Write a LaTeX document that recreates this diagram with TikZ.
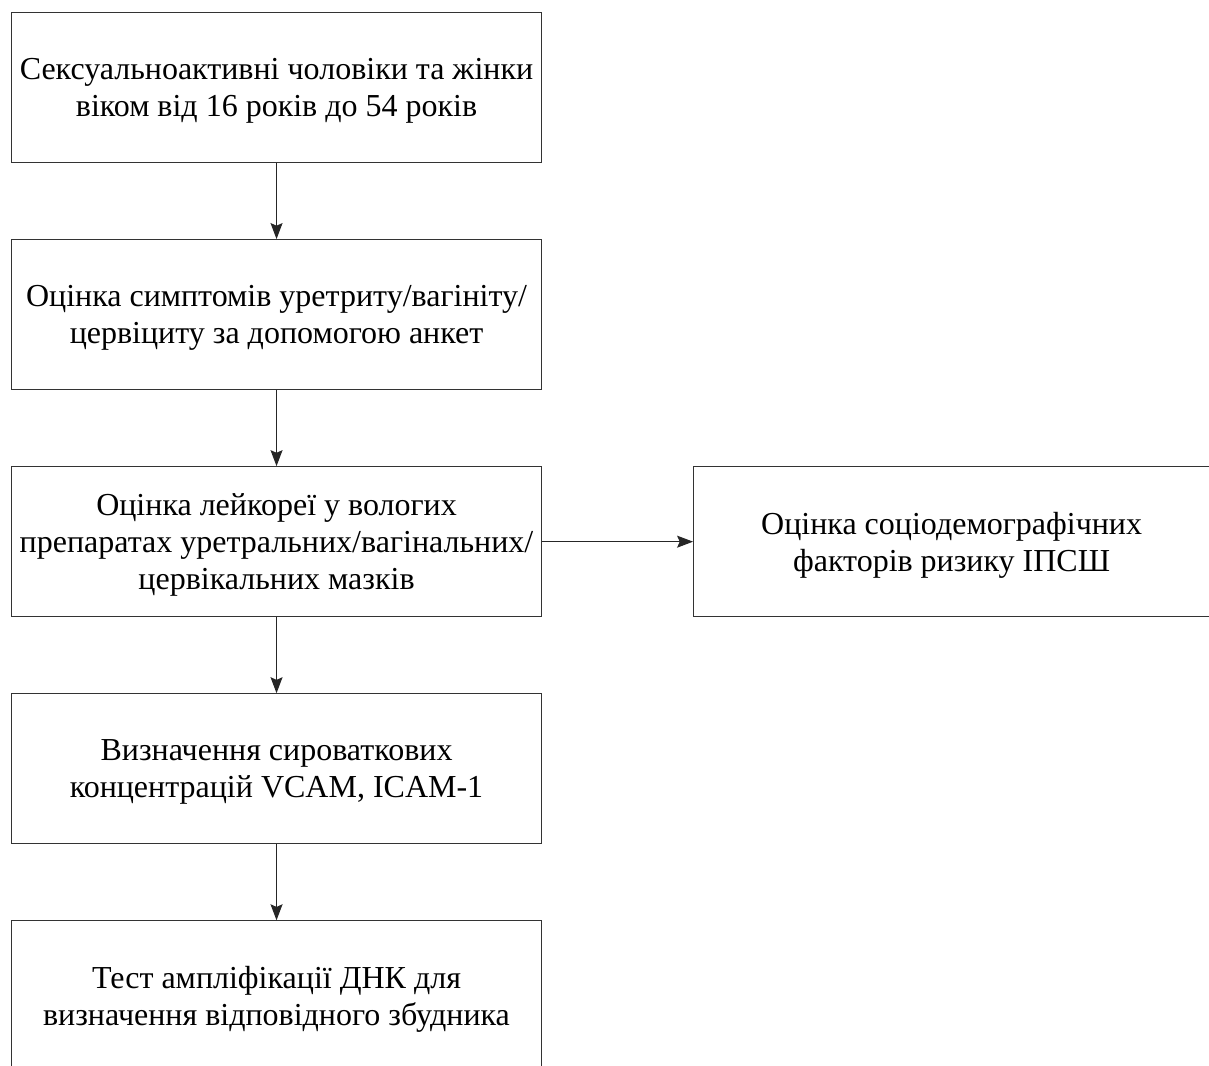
\documentclass[tikz,border=0pt]{standalone}
\usepackage{fontspec}
\setmainfont{Liberation Serif}
\usetikzlibrary{arrows.meta}
\usetikzlibrary{positioning}
\usetikzlibrary{calc}

\tikzset{
  stage/.style={draw=black!80,line width=0.8pt,rectangle,align=center,
    minimum width=397.5pt,minimum height=112.5pt,inner sep=0pt,text depth=0pt,
    font=\fontsize{24pt}{28pt}\selectfont},
  flow/.style={draw=black!85,line width=0.8pt,-{Stealth[length=12pt,width=9pt,inset=2pt]}}
}

\begin{document}
\begin{tikzpicture}[node distance=57pt]
  \useasboundingbox (0,0) rectangle (906.75pt,-799.5pt);
  \node[stage,anchor=north west] (cohort) at (8.25pt,-9pt)
    {Сексуальноактивні чоловіки та жінки\\віком від 16 років до 54 років};
  \node[stage,below=of cohort] (symptoms)
    {Оцінка симптомів уретриту/вагініту/\\цервіциту за допомогою анкет};
  \node[stage,below=of symptoms] (leuko)
    {Оцінка лейкореї у вологих\\препаратах уретральних/вагінальних/\\цервікальних мазків};
  \node[stage,minimum width=387pt,right=113.25pt of leuko] (risk)
    {Оцінка соціодемографічних\\факторів ризику ІПСШ};
  \node[stage,below=of leuko] (serum)
    {Визначення сироваткових\\концентрацій VCAM, ICAM-1};
  \node[stage,below=of serum] (dna)
    {Тест ампліфікації ДНК для\\визначення відповідного збудника};
  \draw[flow] (cohort) -- (symptoms);
  \draw[flow] (symptoms) -- (leuko);
  \draw[flow] (leuko) -- (risk);
  \draw[flow] (leuko) -- (serum);
  \draw[flow] (serum) -- (dna);
\end{tikzpicture}
\end{document}
